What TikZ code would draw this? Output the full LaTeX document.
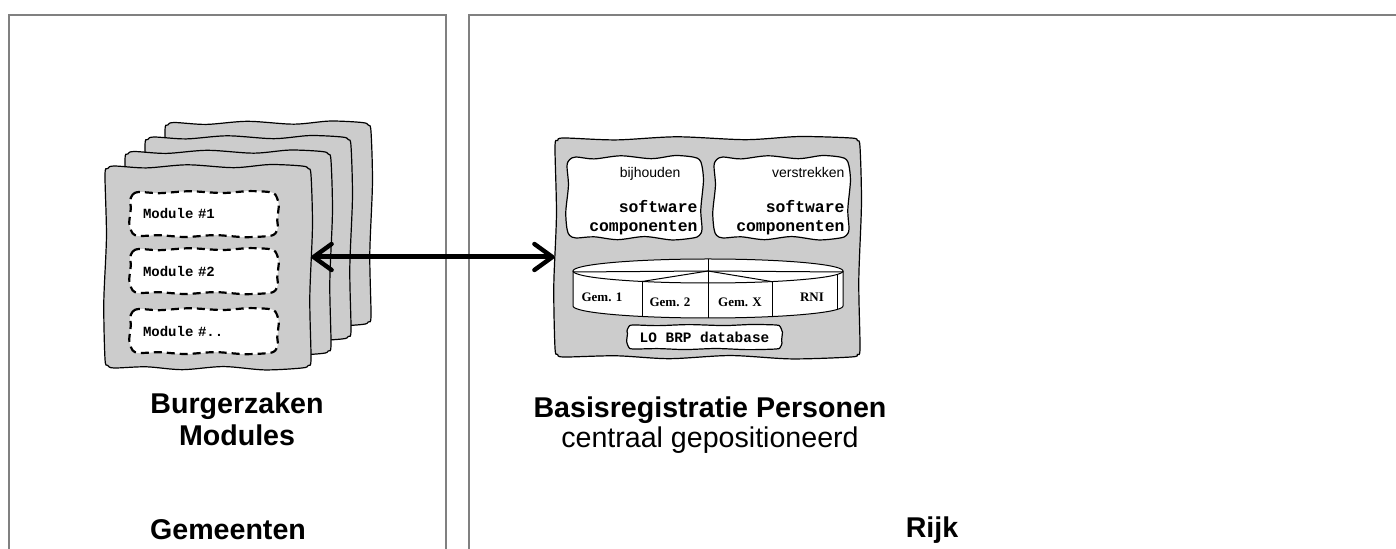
\documentclass[tikz,border=0pt]{standalone}
\usepackage{fontspec}
\setmainfont{Liberation Sans}
\newfontfamily\codefont{Liberation Mono}
\newfontfamily\gemfont{Liberation Serif}
\usetikzlibrary{arrows.meta}
\definecolor{sheetgray}{RGB}{204,204,204}
\definecolor{framegray}{RGB}{128,128,128}
\tikzset{
  sheetline/.style={draw=black, line width=0.6pt, fill=sheetgray},
  slotline/.style={draw=black, line width=0.6pt, fill=white},
  modline/.style={slotline, line width=1.1pt, dash pattern=on 4pt off 2.5pt},
  modtext/.style={text width=61pt, align=left,
    font=\codefont\bfseries\fontsize{7}{8}\selectfont},
  comptext/.style={text width=63pt, align=right, yshift=-2pt,
    font=\codefont\bfseries\fontsize{8.2}{9.5}\selectfont},
  gemlabel/.style={font=\gemfont\bfseries\fontsize{6.5}{8}\selectfont},
  title/.style={font=\bfseries\fontsize{14.3}{16}\selectfont, align=center},
}
% hand drawn box: [draw style]{name}{cx}{cy}{w}{h}{node style}{text}, sizes in px
\newcommand{\handbox}[8][]{%
  \pgfmathsetmacro\hbw{(#5)/2}%
  \pgfmathsetmacro\hbh{(#6)/2}%
  \pgfmathsetmacro\hba{min(2.4,(#6)/30)}%
  \pgfmathsetmacro\hbr{min(9,(#6)/4)}%
  \pgfmathsetmacro\hbcx{#3}%
  \pgfmathsetmacro\hbcy{#4}%
  \draw[#1] plot[smooth cycle, tension=0.5] coordinates {
    ({\hbcx-\hbw},{\hbcy-\hbh+\hbr})
    ({\hbcx-\hbw+0.29*\hbr},{\hbcy-\hbh+0.29*\hbr})
    ({\hbcx-\hbw+\hbr},{\hbcy-\hbh})
    ({\hbcx-0.6*\hbw},{\hbcy-\hbh+0.8*\hba})
    ({\hbcx-0.2*\hbw},{\hbcy-\hbh-0.5*\hba})
    ({\hbcx+0.25*\hbw},{\hbcy-\hbh+0.7*\hba})
    ({\hbcx+0.6*\hbw},{\hbcy-\hbh-0.6*\hba})
    ({\hbcx+\hbw-\hbr},{\hbcy-\hbh})
    ({\hbcx+\hbw-0.29*\hbr},{\hbcy-\hbh+0.29*\hbr})
    ({\hbcx+\hbw},{\hbcy-\hbh+\hbr})
    ({\hbcx+\hbw+0.6*\hba},{\hbcy-0.4*\hbh})
    ({\hbcx+\hbw-0.5*\hba},{\hbcy+0.3*\hbh})
    ({\hbcx+\hbw},{\hbcy+\hbh-\hbr})
    ({\hbcx+\hbw-0.29*\hbr},{\hbcy+\hbh-0.29*\hbr})
    ({\hbcx+\hbw-\hbr},{\hbcy+\hbh})
    ({\hbcx+0.55*\hbw},{\hbcy+\hbh+0.8*\hba})
    ({\hbcx+0.15*\hbw},{\hbcy+\hbh-0.6*\hba})
    ({\hbcx-0.25*\hbw},{\hbcy+\hbh+0.7*\hba})
    ({\hbcx-0.6*\hbw},{\hbcy+\hbh-0.5*\hba})
    ({\hbcx-\hbw+\hbr},{\hbcy+\hbh})
    ({\hbcx-\hbw+0.29*\hbr},{\hbcy+\hbh-0.29*\hbr})
    ({\hbcx-\hbw},{\hbcy+\hbh-\hbr})
    ({\hbcx-\hbw-0.5*\hba},{\hbcy+0.35*\hbh})
    ({\hbcx-\hbw+0.6*\hba},{\hbcy-0.3*\hbh})
  };
  \node[inner sep=0pt, minimum width=#5*0.5pt, minimum height=#6*0.5pt, #7] (#2) at (\hbcx,\hbcy) {#8};}
\begin{document}
\begin{tikzpicture}[x=0.5pt,y=-0.5pt]
    \useasboundingbox (0,0) rectangle (1396,549);
    % gemeenten / rijk
    \draw[framegray, line width=1pt] (9,560) |- (446,15) -- (446,560);
    \draw[framegray, line width=1pt] (469,560) |- (1402,15);
    \node[title] (gemeenten) at (228,530) {Gemeenten};
    \node[title] (rijk) at (932,530) {Rijk};

    % burgerzaken modules
    \foreach \i in {3,2,1} {
        \handbox[sheetline]{bzsheet\i}{208+20*\i}{267-14.5*\i}{206}{202}{}{}
    }
    \handbox[sheetline]{bzfront}{208}{267}{206}{202}{}{}
    \handbox[modline]{mod1}{204}{214}{148}{44}{modtext}{Module \#1}
    \handbox[modline]{mod2}{204}{271}{148}{44}{modtext}{Module \#2}
    \handbox[modline]{mod3}{204}{331}{148}{44}{modtext}{Module \#..}
    \node[title] (bztitle) at (237,419) {Burgerzaken\\Modules};

    % basisregistratie personen
    \handbox[sheetline]{brp}{707.5}{247.5}{305}{219}{}{}
    \handbox[slotline]{bijh}{634.5}{197.5}{135}{81}{comptext}
        {{\normalfont\fontsize{7}{8}\selectfont bijhouden\kern8.5pt}\\[8pt]software\\componenten}
    \handbox[slotline]{verstr}{781.5}{197.5}{135}{81}{comptext}
        {{\normalfont\fontsize{7}{8}\selectfont verstrekken}\\[8pt]software\\componenten}
    \coordinate (dbtop) at (708,271);
    \coordinate (dbbot) at (708,306);
    \draw[fill=white, line width=0.5pt] ([xshift=-67.5pt]dbtop) -- ([xshift=-67.5pt]dbbot)
        arc[start angle=180, end angle=360, x radius=67.5pt, y radius=6pt] -- ([xshift=67.5pt]dbtop);
    \draw[fill=white, line width=0.5pt] (dbtop) ellipse[x radius=67.5pt, y radius=6pt];
    \draw[line width=0.5pt] (573,272) -- (dbtop) -- (843,272);
    \draw[line width=0.5pt] (642,281.5) -- (dbtop) -- (772,281.6);
    \draw[line width=0.5pt] (708,259) -- (708,318);
    \draw[line width=0.5pt] (642,281.5) -- (642,316.5);
    \draw[line width=0.5pt] (772,281.6) -- (772,316.6);
    \draw[line width=0.5pt] (837,274.5) -- (837,309.5);
    \node[gemlabel] (gem1) at (602,297) {Gem. 1};
    \node[gemlabel] (gem2) at (670,302) {Gem. 2};
    \node[gemlabel] (gemx) at (740,302) {Gem. X};
    \node[gemlabel] (rni) at (812,297) {RNI};
    \handbox[slotline]{lobrp}{704.5}{337}{155}{24}{font=\codefont\bfseries\fontsize{7.2}{8}\selectfont}{LO BRP database}
    \node[align=center, font=\fontsize{14.3}{15}\selectfont] (brptitle) at (710,425)
        {\textbf{Basisregistratie Personen}\\centraal gepositioneerd};

    % koppeling
    \coordinate (linkL) at ([yshift=5pt]bzfront.east);
    \draw[line width=2.5pt, {Straight Barb[length=9pt,width=13pt,line width=2.2pt,round]}-{Straight Barb[length=9pt,width=13pt,line width=2.2pt,round]}]
        (linkL) -- (linkL -| brp.west);
\end{tikzpicture}
\end{document}
